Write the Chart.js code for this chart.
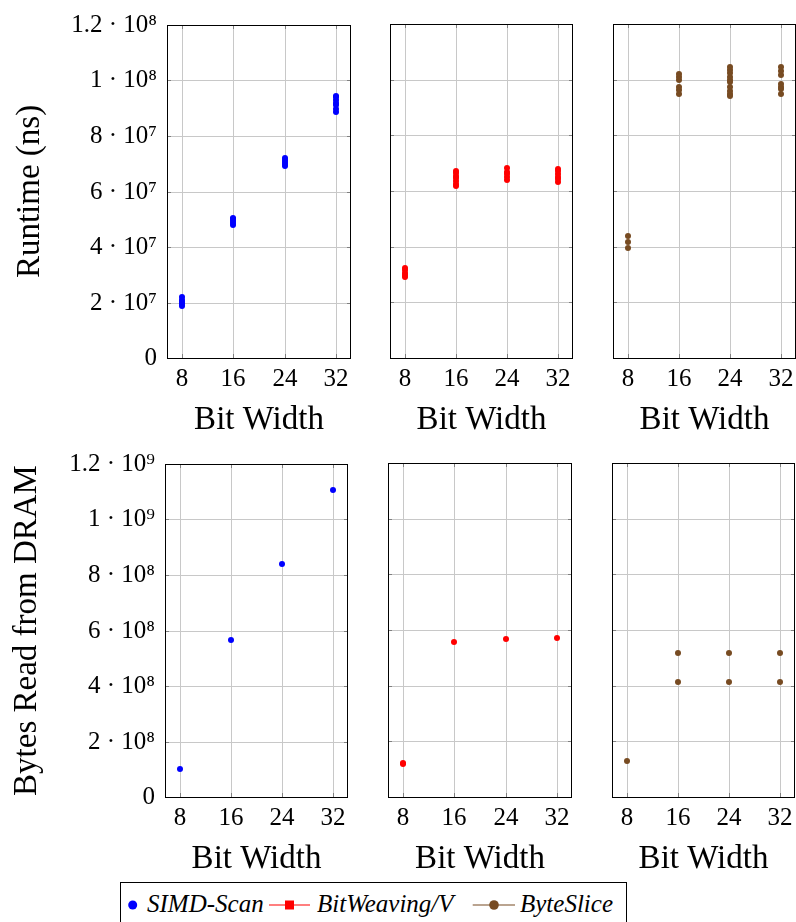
<!DOCTYPE html>
<html>
<head>
<meta charset="utf-8">
<script src="https://cdn.jsdelivr.net/npm/chart.js@4/dist/chart.umd.min.js"></script>
<style>
  body { margin: 0; background: #fff; }
  #wrap { position: relative; width: 796px; height: 922px; overflow: hidden; font-family: "Liberation Serif", serif; }
  canvas { position: absolute; }
  #legend { position: absolute; left: 120px; top: 882px; width: 507px; height: 44px; box-sizing: border-box; border: 1px solid #000; }
  #legend span { position: absolute; top: 6px; font-style: italic; font-size: 25px; line-height: 30px; white-space: nowrap; }
  #legend svg { position: absolute; top: 0; }
</style>
</head>
<body>
<div id="wrap">
  <canvas id="p1" width="360" height="440" style="left:0;top:0"></canvas>
  <canvas id="p2" width="220" height="440" style="left:360px;top:0"></canvas>
  <canvas id="p3" width="220" height="440" style="left:590px;top:0"></canvas>
  <canvas id="p4" width="360" height="440" style="left:0;top:439px"></canvas>
  <canvas id="p5" width="220" height="440" style="left:360px;top:439px"></canvas>
  <canvas id="p6" width="220" height="440" style="left:590px;top:439px"></canvas>
  <div id="legend">
    <svg width="507" height="44">
      <circle cx="11.7" cy="22" r="4.5" fill="#0000ff"/>
      <line x1="148" y1="22" x2="189" y2="22" stroke="#ff0000" stroke-width="1.2"/>
      <rect x="164" y="17.5" width="9" height="9" fill="#ff0000"/>
      <line x1="351.7" y1="22" x2="394" y2="22" stroke="#774b22" stroke-width="1.2"/>
      <circle cx="373" cy="22" r="4.8" fill="#774b22"/>
    </svg>
    <span style="left:26px">SIMD-Scan</span>
    <span style="left:196px">BitWeaving/V</span>
    <span style="left:399px">ByteSlice</span>
  </div>
</div>
<script>
// x axis: bit widths
const bitWidths = [8, 16, 24, 32];
const xTickLabels = ['8', '16', '24', '32'];

// y axis ticks
const runtimeTicks = [0, 2e7, 4e7, 6e7, 8e7, 1e8, 1.2e8];
const runtimeTickLabels = ['0', '2 · 10⁷', '4 · 10⁷', '6 · 10⁷', '8 · 10⁷', '1 · 10⁸', '1.2 · 10⁸'];
const bytesTicks = [0, 2e8, 4e8, 6e8, 8e8, 1e9, 1.2e9];
const bytesTickLabels = ['0', '2 · 10⁸', '4 · 10⁸', '6 · 10⁸', '8 · 10⁸', '1 · 10⁹', '1.2 · 10⁹'];

// runtime (ns), one list of runs per bit width
const simdRuntime = [
  [1.88e7, 1.95e7, 2.02e7, 2.1e7, 2.2e7],
  [4.78e7, 4.85e7, 4.92e7, 5.0e7, 5.05e7],
  [6.92e7, 7.0e7, 7.08e7, 7.15e7, 7.2e7],
  [8.88e7, 8.98e7, 9.1e7, 9.2e7, 9.3e7, 9.4e7, 9.45e7]
];
const bitweavingRuntime = [
  [2.9e7, 2.98e7, 3.05e7, 3.15e7, 3.25e7],
  [6.17e7, 6.25e7, 6.35e7, 6.45e7, 6.55e7, 6.65e7, 6.73e7],
  [6.4e7, 6.5e7, 6.6e7, 6.7e7, 6.82e7],
  [6.33e7, 6.42e7, 6.52e7, 6.62e7, 6.72e7, 6.8e7]
];
const byteSliceRuntime = [
  [3.97e7, 4.18e7, 4.4e7],
  [9.5e7, 9.62e7, 9.75e7, 9.98e7, 1.008e8, 1.02e8],
  [9.4e7, 9.5e7, 9.6e7, 9.75e7, 9.9e7, 1.0e8, 1.01e8, 1.025e8, 1.035e8, 1.045e8],
  [9.5e7, 9.65e7, 9.75e7, 9.85e7, 1.015e8, 1.03e8, 1.045e8]
];

// bytes read from DRAM, per bit width
const simdBytes = [[1.02e8], [5.67e8], [8.38e8], [1.108e9]];
const bitweavingBytes = [[1.17e8, 1.21e8], [5.58e8], [5.69e8], [5.70e8]];
const byteSliceBytes = [[1.29e8], [4.12e8, 5.19e8], [4.12e8, 5.19e8], [4.12e8, 5.19e8]];

const BLUE = '#0000ff', RED = '#ff0000', BROWN = '#774b22';

Chart.defaults.font.family = '"Liberation Serif", serif';
Chart.defaults.color = '#000';

function toPoints(samples) {
  return bitWidths.flatMap((w, i) => samples[i].map(v => ({ x: w, y: v })));
}

// box around the plot + short inward ticks on every side
const frame = {
  id: 'frame',
  afterDraw(chart) {
    const { ctx, chartArea: a, scales } = chart;
    ctx.save();
    ctx.strokeStyle = '#808080';
    ctx.lineWidth = 1;
    ctx.beginPath();
    scales.x.ticks.forEach(t => {
      const px = Math.round(scales.x.getPixelForValue(t.value)) + 0.5;
      ctx.moveTo(px, a.top); ctx.lineTo(px, a.top + 4);
      ctx.moveTo(px, a.bottom); ctx.lineTo(px, a.bottom - 4);
    });
    scales.y.ticks.forEach(t => {
      const py = Math.round(scales.y.getPixelForValue(t.value)) + 0.5;
      ctx.moveTo(a.left, py); ctx.lineTo(a.left + 4, py);
      ctx.moveTo(a.right, py); ctx.lineTo(a.right - 4, py);
    });
    ctx.stroke();
    ctx.strokeStyle = '#000';
    ctx.strokeRect(Math.round(a.left) + 0.5, Math.round(a.top) + 0.5, Math.round(a.width) - 1, Math.round(a.height));
    ctx.restore();
  }
};

function makePanel(id, cfg) {
  const ctx = document.getElementById(id).getContext('2d');
  return new Chart(ctx, {
    type: 'scatter',
    data: {
      datasets: [{
        data: toPoints(cfg.samples),
        backgroundColor: cfg.color,
        borderWidth: 0,
        pointRadius: 3,
        pointHoverRadius: 3
      }]
    },
    options: {
      responsive: false,
      animation: false,
      devicePixelRatio: 1,
      layout: { padding: cfg.padding },
      plugins: { legend: { display: false }, tooltip: { enabled: false } },
      scales: {
        x: {
          type: 'linear',
          min: 5.6,
          max: 34.4,
          alignToPixels: true,
          afterBuildTicks: s => { s.ticks = bitWidths.map(v => ({ value: v })); },
          afterFit: s => { s.height = 82; },
          ticks: {
            padding: 6,
            font: { size: 25 },
            callback: (v, i) => xTickLabels[i]
          },
          grid: { color: '#c8c8c8', drawTicks: false },
          border: { display: false },
          title: { display: true, text: 'Bit Width', font: { size: 33 }, padding: { top: 0, bottom: 0 } }
        },
        y: {
          type: 'linear',
          min: 0,
          max: cfg.yTicks[cfg.yTicks.length - 1],
          alignToPixels: true,
          afterBuildTicks: s => { s.ticks = cfg.yTicks.map(v => ({ value: v })); },
          afterFit: s => { s.width = cfg.yWidth; },
          ticks: {
            display: !!cfg.yTitle,
            padding: 10,
            font: { size: 25 },
            callback: (v, i) => cfg.yLabels[i]
          },
          grid: { color: '#c8c8c8', drawTicks: false },
          border: { display: false },
          title: { display: !!cfg.yTitle, text: cfg.yTitle || '', font: { size: 33 }, padding: { top: cfg.yTitlePad || 0, bottom: 0 } }
        }
      }
    },
    plugins: [frame]
  });
}

const rowPad = { top: 24, bottom: 0 };

makePanel('p1', { samples: simdRuntime, color: BLUE, yTicks: runtimeTicks, yLabels: runtimeTickLabels,
  yTitle: 'Runtime (ns)', yTitlePad: 11, yWidth: 167, padding: { left: 0, right: 9, ...rowPad } });
makePanel('p2', { samples: bitweavingRuntime, color: RED, yTicks: runtimeTicks, yLabels: runtimeTickLabels,
  yWidth: 0, padding: { left: 30, right: 7, ...rowPad } });
makePanel('p3', { samples: byteSliceRuntime, color: BROWN, yTicks: runtimeTicks, yLabels: runtimeTickLabels,
  yWidth: 0, padding: { left: 23, right: 14, ...rowPad } });

makePanel('p4', { samples: simdBytes, color: BLUE, yTicks: bytesTicks, yLabels: bytesTickLabels,
  yTitle: 'Bytes Read from DRAM', yTitlePad: 8, yWidth: 165, padding: { left: 0, right: 12, ...rowPad } });
makePanel('p5', { samples: bitweavingBytes, color: RED, yTicks: bytesTicks, yLabels: bytesTickLabels,
  yWidth: 0, padding: { left: 28, right: 8, ...rowPad } });
makePanel('p6', { samples: byteSliceBytes, color: BROWN, yTicks: bytesTicks, yLabels: bytesTickLabels,
  yWidth: 0, padding: { left: 22, right: 15, ...rowPad } });
</script>
</body>
</html>
